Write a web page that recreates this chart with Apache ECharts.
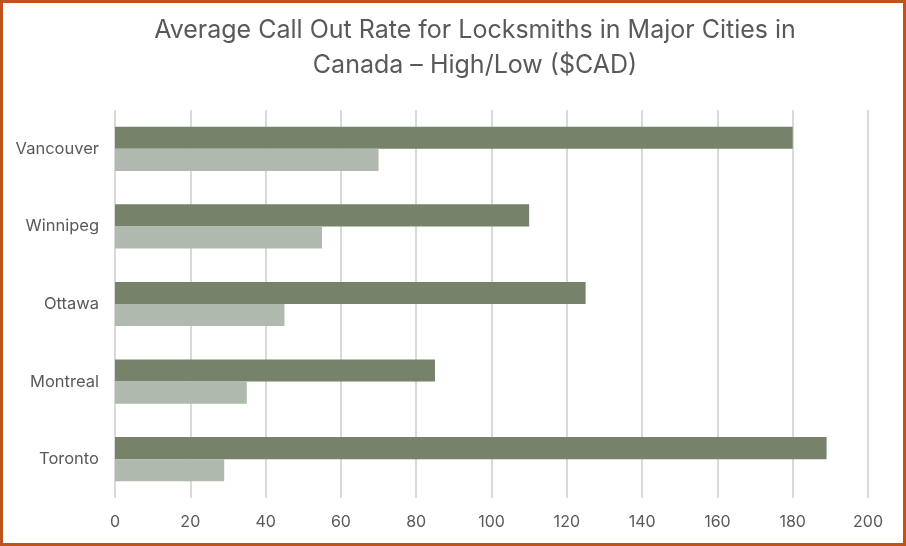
<!DOCTYPE html>
<html><head><meta charset="utf-8">
<script src="https://cdn.jsdelivr.net/npm/echarts@6/dist/echarts.min.js"></script>
<style>html,body{margin:0;padding:0;background:#fff}#c{width:906px;height:546px;box-sizing:border-box;border:3px solid #C0531A}</style>
</head><body><div id="c"></div>
<script>
var cities = ['Toronto','Montreal','Ottawa','Winnipeg','Vancouver'];
var highRates = [189, 85, 125, 110, 180];
var lowRates = [29, 35, 45, 55, 70];
var chart = echarts.init(document.getElementById('c'));
chart.setOption({
  animation:false,
  title:{text:'Average Call Out Rate for Locksmiths in Major Cities in\nCanada \u2013 High/Low ($CAD)',left:467,top:5,
    textAlign:'center',
    textStyle:{fontFamily:'Inter',fontSize:25,fontWeight:'normal',color:'#595959',lineHeight:35}},
  grid:{left:112,right:35,top:107,bottom:45},
  xAxis:{type:'value',min:0,max:200,interval:20,
    axisLine:{show:false},axisTick:{show:false},
    axisLabel:{fontFamily:'Inter',fontSize:16,color:'#595959',margin:16},
    splitLine:{lineStyle:{color:'#d9d9d9',width:2}}},
  yAxis:{type:'category',data:cities,
    axisLine:{show:false},axisTick:{show:false},
    axisLabel:{fontFamily:'Inter',fontSize:16.5,color:'#595959',margin:16}},
  series:[
    {name:'High',type:'bar',data:highRates,itemStyle:{color:'#76826A'},barGap:'0%',barCategoryGap:'43%'},
    {name:'Low',type:'bar',data:lowRates,itemStyle:{color:'#AFB9AD'},barGap:'0%',barCategoryGap:'43%'}
  ]
});
</script></body></html>
